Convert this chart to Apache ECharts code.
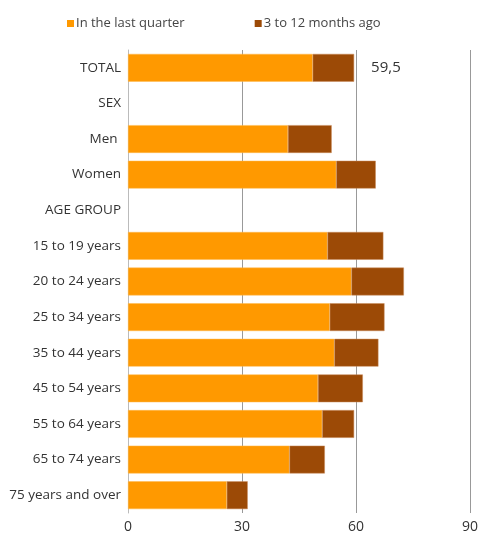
<!DOCTYPE html>
<html>
<head>
<meta charset="utf-8">
<script src="https://cdn.jsdelivr.net/npm/echarts@6/dist/echarts.min.js"></script>
<style>html,body{margin:0;padding:0;background:#fff}#c{width:481px;height:534px}</style>
</head>
<body>
<div id="c"></div>
<script>
var categories = ["TOTAL","SEX","Men ","Women","AGE GROUP","15 to 19 years","20 to 24 years","25 to 34 years","35 to 44 years","45 to 54 years","55 to 64 years","65 to 74 years","75 years and over"];
var lastQuarter = [48.6, null, 42.1, 54.8, null, 52.5, 58.8, 53.1, 54.3, 50.0, 51.1, 42.5, 26.0];
var earlier = [10.9, null, 11.5, 10.4, null, 14.7, 13.8, 14.4, 11.6, 11.8, 8.4, 9.3, 5.5];
var totalLabel = "59,5";
var xTicks = [0, 30, 60, 90];

var font = "Open Sans";
var chart = echarts.init(document.getElementById('c'));
var earlierData = earlier.map(function (v, i) {
  if (i === 0) {
    return { value: v, label: { show: true, position: 'right', distance: 17, formatter: totalLabel, color: '#333', fontSize: 15, fontFamily: font } };
  }
  return v;
});
chart.setOption({
  animation: false,
  textStyle: { fontFamily: font },
  legend: {
    top: 12, left: 62,
    itemWidth: 7, itemHeight: 7, itemGap: 70,
    icon: 'rect',
    itemStyle: { borderWidth: 0 },
    textStyle: { color: '#444', fontSize: 13, fontFamily: font, padding: [0, 0, 0, -3] },
    data: ["In the last quarter", "3 to 12 months ago"]
  },
  grid: { left: 128, right: 10, top: 50, bottom: 21, containLabel: false },
  xAxis: {
    type: 'value', min: xTicks[0], max: xTicks[xTicks.length - 1], interval: 30,
    axisLine: { show: false }, axisTick: { show: false },
    splitLine: { lineStyle: { color: '#999', width: 1 } },
    axisLabel: { color: '#333', fontSize: 14, margin: 7, fontFamily: font }
  },
  yAxis: {
    type: 'category', inverse: true, data: categories,
    axisLine: { lineStyle: { color: '#bbb', width: 1 } },
    axisTick: { show: false },
    axisLabel: { color: '#333', fontSize: 13.5, margin: 7, fontFamily: font }
  },
  series: [
    { name: "In the last quarter", type: 'bar', stack: 's', data: lastQuarter, barCategoryGap: '22%',
      itemStyle: { color: '#FF9900', borderColor: '#FFB84D', borderWidth: 0.5 } },
    { name: "3 to 12 months ago", type: 'bar', stack: 's', data: earlierData,
      itemStyle: { color: '#9C4A06', borderColor: '#C98A5A', borderWidth: 0.5 } }
  ]
});
</script>
</body>
</html>
